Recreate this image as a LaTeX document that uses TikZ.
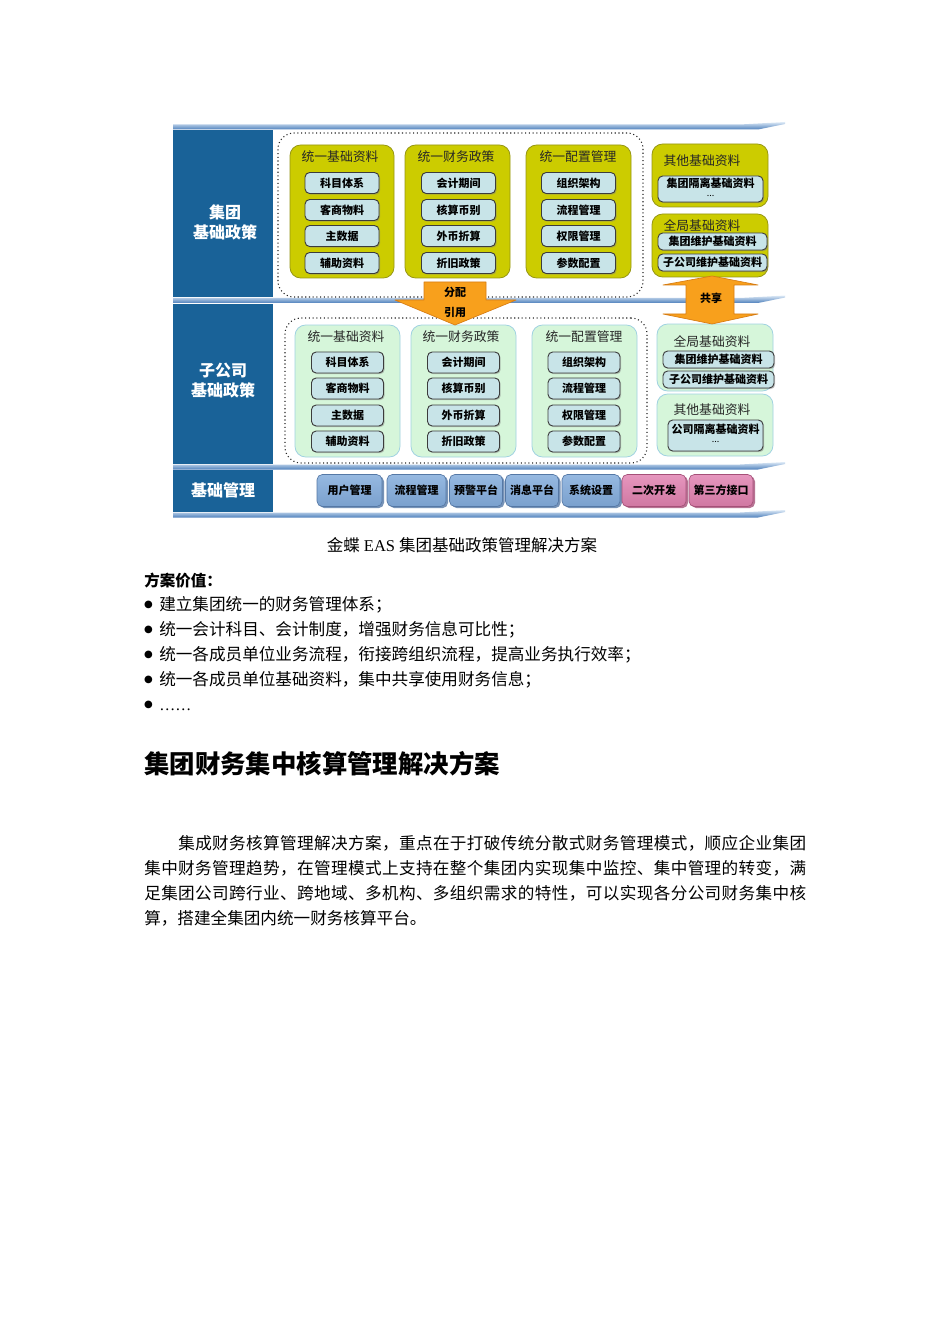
\documentclass[tikz,border=0pt]{standalone}
\usepackage{fontspec}
\setmainfont{Liberation Serif}
\newfontfamily\cjk{Noto Sans CJK SC}
\newfontfamily\symf{DejaVu Sans}
\usetikzlibrary{fit,shadows}

\newcommand\pxsize[2]{\fontsize{\dimexpr #1pt*3/4\relax}{\dimexpr #2pt*3/4\relax}\selectfont}
\def\jspr#1{#1\jsprnext}
\def\jsprnext#1{\ifx\relax#1\else\hfil#1\expandafter\jsprnext\fi}
\newcommand\jline[2]{\hbox to #1{\jspr#2\relax}}

\definecolor{colblue}{RGB}{25,98,152}
\definecolor{grpyel}{RGB}{204,204,0}
\definecolor{grpyeld}{RGB}{150,150,20}
\definecolor{grpgrn}{RGB}{214,246,218}
\definecolor{grpgrnd}{RGB}{160,210,225}
\definecolor{boxfill}{RGB}{200,228,232}
\definecolor{boxdraw}{RGB}{60,60,60}
\definecolor{arrorg}{RGB}{248,160,28}
\definecolor{arrorgd}{RGB}{215,125,20}
\definecolor{btnblue}{RGB}{122,160,205}
\definecolor{btnbluel}{RGB}{150,185,225}
\definecolor{btnblued}{RGB}{85,120,165}
\definecolor{btnpink}{RGB}{208,120,162}
\definecolor{btnpinkl}{RGB}{230,150,190}
\definecolor{btnpinkd}{RGB}{165,80,120}
\definecolor{barlt}{RGB}{220,233,246}
\definecolor{bardk}{RGB}{78,128,188}

\tikzset{
  colblk/.style={fill=colblue, inner sep=0pt, draw=none},
  coltxt/.style={text=white, font=\cjk\bfseries\pxsize{16}{20}, align=center, inner sep=0pt},
  dotbox/.style={draw=black!85, dotted, line width=0.8pt, rounded corners=12pt, inner sep=0pt},
  ygrp/.style={fill=grpyel, draw=grpyeld, line width=0.6pt, rounded corners=8pt, inner sep=0pt},
  ggrp/.style={fill=grpgrn, draw=grpgrnd, line width=0.6pt, rounded corners=8pt, inner sep=0pt},
  gtitle/.style={font=\cjk\pxsize{12.8}{15}, text=black!85, inner sep=0pt},
  ibox/.style={fill=boxfill, draw=boxdraw, line width=0.7pt, rounded corners=3.5pt, inner sep=0pt,
    minimum width=#1*0.75pt, minimum height=21*0.75pt, align=center,
    font=\cjk\bfseries\pxsize{11}{12},
    drop shadow={shadow xshift=0.9pt, shadow yshift=-0.9pt, opacity=0.45}},
  ibox/.default=74,
  dots/.style={font=\cjk\pxsize{9}{9}, inner sep=0pt},
  btn/.style={rounded corners=4pt, inner sep=0pt, minimum width=#1*0.75pt, minimum height=32*0.75pt,
    font=\cjk\bfseries\pxsize{11}{13}, text=black},
  bbtn/.style={btn=#1, top color=btnbluel, bottom color=btnblue, draw=btnblued, line width=0.5pt,
    drop shadow={shadow xshift=1.5pt, shadow yshift=-1.2pt, fill=btnblued, opacity=0.8}},
  pbtn/.style={btn=#1, top color=btnpinkl, bottom color=btnpink, draw=btnpinkd, line width=0.5pt,
    drop shadow={shadow xshift=1.5pt, shadow yshift=-1.2pt, fill=btnpinkd, opacity=0.8}},
  arr/.style={fill=arrorg, draw=arrorgd, line width=0.5pt, line join=round},
  arrtxt/.style={font=\cjk\bfseries\pxsize{11}{13}, inner sep=0pt},
  body/.style={font=\cjk\pxsize{16.6}{20}, inner sep=0pt, anchor=west}
}

\begin{document}
\begin{tikzpicture}[x=0.75pt,y=-0.75pt]
\useasboundingbox (0,0) rectangle (950,1344);
\fill[white] (0,0) rectangle (950,1344);

% left column
\node[colblk, fit={(173,130)(273,297)}] (colA) {};
\node[colblk, fit={(173,304)(273,464)}] (colB) {};
\node[colblk, fit={(173,470)(273,512)}] (colC) {};
\node[coltxt] (colAt) at (225,222) {集团\\基础政策};
\node[coltxt] (colBt) at (223,381) {子公司\\基础政策};
\node[coltxt] (colCt) at (223,490) {基础管理};

% ribbons
\foreach \c in {127,300.5,467,515} {
  \shade[top color=barlt, bottom color=bardk]
    (173,{\c-2.5}) -- (740,{\c-2.5}) -- (785,{\c-5}) -- (785,{\c-3}) -- (758,{\c+2.5}) -- (173,{\c+2.5}) -- cycle;
}

% dotted frames
\node[dotbox, fit={(278,133)(643,297)}] (dotU) {};
\node[dotbox, fit={(285,318)(647,463)}] (dotL) {};

% yellow groups
\node[ygrp, fit={(290,145)(394,278)}] (gy1) {};
\node[ygrp, fit={(405,145)(510,278)}] (gy2) {};
\node[ygrp, fit={(526,145)(631,278)}] (gy3) {};
\node[ygrp, fit={(652,144)(768,207)}] (gy4) {};
\node[ygrp, fit={(652,214)(768,277)}] (gy5) {};
\node[gtitle] (gy1t) at (340,157) {统一基础资料};
\node[gtitle] (gy2t) at (456,157) {统一财务政策};
\node[gtitle] (gy3t) at (578,157) {统一配置管理};
\node[gtitle] (gy4t) at (702,161) {其他基础资料};
\node[gtitle] (gy5t) at (702,226) {全局基础资料};

\node[ibox] (y11) at (342,183) {科目体系};
\node[ibox] (y12) at (342,210) {客商物料};
\node[ibox] (y13) at (342,236) {主数据};
\node[ibox] (y14) at (342,263) {辅助资料};
\node[ibox] (y21) at (458.5,183) {会计期间};
\node[ibox] (y22) at (458.5,210) {核算币别};
\node[ibox] (y23) at (458.5,236) {外币折算};
\node[ibox] (y24) at (458.5,263) {折旧政策};
\node[ibox] (y31) at (578.5,183) {组织架构};
\node[ibox] (y32) at (578.5,210) {流程管理};
\node[ibox] (y33) at (578.5,236) {权限管理};
\node[ibox] (y34) at (578.5,263) {参数配置};
\node[ibox=105, minimum height=26*0.75pt, text height=14*0.75pt, text depth=10*0.75pt] (y41) at (710.5,189) {};
\node[ibox=109, minimum height=17*0.75pt] (y51) at (712.5,241.5) {集团维护基础资料};
\node[ibox=109, minimum height=17*0.75pt] (y52) at (712.5,262.5) {子公司维护基础资料};
\node[inner sep=0pt, font=\cjk\bfseries\pxsize{11}{12}] (y41a) at (710.5,183) {集团隔离基础资料};
\node[dots] (y41b) at (710.5,196) {...};

% green groups
\node[ggrp, fit={(295,325)(400,457)}] (gg1) {};
\node[ggrp, fit={(411,325)(516,457)}] (gg2) {};
\node[ggrp, fit={(532,325)(637,457)}] (gg3) {};
\node[ggrp, fit={(657,324)(773,391)}] (gg4) {};
\node[ggrp, fit={(657,394)(773,456)}] (gg5) {};
\node[gtitle] (gg1t) at (346,337) {统一基础资料};
\node[gtitle] (gg2t) at (461,337) {统一财务政策};
\node[gtitle] (gg3t) at (584,337) {统一配置管理};
\node[gtitle] (gg4t) at (712,342) {全局基础资料};
\node[gtitle] (gg5t) at (712,410) {其他基础资料};

\node[ibox=72] (g11) at (347.5,362.5) {科目体系};
\node[ibox=72] (g12) at (347.5,388.5) {客商物料};
\node[ibox=72] (g13) at (347.5,415.5) {主数据};
\node[ibox=72] (g14) at (347.5,441.5) {辅助资料};
\node[ibox=72] (g21) at (463.5,362.5) {会计期间};
\node[ibox=72] (g22) at (463.5,388.5) {核算币别};
\node[ibox=72] (g23) at (463.5,415.5) {外币折算};
\node[ibox=72] (g24) at (463.5,441.5) {折旧政策};
\node[ibox=72] (g31) at (584,362.5) {组织架构};
\node[ibox=72] (g32) at (584,388.5) {流程管理};
\node[ibox=72] (g33) at (584,415.5) {权限管理};
\node[ibox=72] (g34) at (584,441.5) {参数配置};
\node[ibox=111, minimum height=17*0.75pt] (g41) at (718.5,359.5) {集团维护基础资料};
\node[ibox=111, minimum height=17*0.75pt] (g42) at (718.5,379.5) {子公司维护基础资料};
\node[ibox=95, minimum height=31*0.75pt] (g51) at (715.5,435.5) {};
\node[inner sep=0pt, font=\cjk\bfseries\pxsize{11}{12}] (g51a) at (715.5,429) {公司隔离基础资料};
\node[dots] (g51b) at (715.5,442) {...};

% arrows
\filldraw[arr] (424,282) -- (486,282) -- (486,300) -- (516,300) -- (455,325) -- (395,300) -- (424,300) -- cycle;
\node[arrtxt] (a1a) at (455,292) {分配};
\node[arrtxt] (a1b) at (455,312) {引用};
\filldraw[arr] (712,276) -- (758,285) -- (734,285) -- (734,314) -- (758,314) -- (712,324) -- (663,314) -- (686,314) -- (686,285) -- (663,285) -- cycle;
\node[arrtxt] (a2) at (711,298) {共享};

% bottom buttons
\node[bbtn=65] (b1) at (349.5,490.5) {用户管理};
\node[bbtn=59] (b2) at (416.5,490.5) {流程管理};
\node[bbtn=53] (b3) at (476,490.5) {预警平台};
\node[bbtn=53] (b4) at (532,490.5) {消息平台};
\node[bbtn=58] (b5) at (591,490.5) {系统设置};
\node[pbtn=64] (b6) at (654,490.5) {二次开发};
\node[pbtn=64] (b7) at (721,490.5) {第三方接口};

% text below
\node[inner sep=0pt, font=\pxsize{16.5}{20}] (cap) at (462,545) {{\cjk 金蝶} EAS {\cjk 集团基础政策管理解决方案}};
\node[body, font=\cjk\bfseries\pxsize{15.5}{20}] (vh) at (144,581) {方案价值：};
\foreach \yy/\nm in {605/1,630/2,655/3,680/4,705/5} {
  \node[inner sep=0pt, font=\symf\pxsize{10}{12}] (bul\nm) at (148.5,\yy) {●};
}
\node[body] (t1) at (159,605) {建立集团统一的财务管理体系；};
\node[body] (t2) at (159,630) {统一会计科目、会计制度，增强财务信息可比性；};
\node[body] (t3) at (159,655) {统一各成员单位业务流程，衔接跨组织流程，提高业务执行效率；};
\node[body] (t4) at (159,680) {统一各成员单位基础资料，集中共享使用财务信息；};
\node[inner sep=0pt, anchor=base west, font=\pxsize{16}{20}] (t5) at (159,710) {……};

\node[body, font=\cjk\bfseries\pxsize{25.4}{30}] (h2) at (144,764) {集团财务集中核算管理解决方案};

\node[body] (p1) at (178,843) {\jline{471pt}{集成财务核算管理解决方案，重点在于打破传统分散式财务管理模式，顺应企业集团}};
\node[body] (p2) at (144,868) {\jline{496.5pt}{集中财务管理趋势，在管理模式上支持在整个集团内实现集中监控、集中管理的转变，满}};
\node[body] (p3) at (144,893) {\jline{496.5pt}{足集团公司跨行业、跨地域、多机构、多组织需求的特性，可以实现各分公司财务集中核}};
\node[body] (p4) at (144,918) {算，搭建全集团内统一财务核算平台。};
\end{tikzpicture}
\end{document}
